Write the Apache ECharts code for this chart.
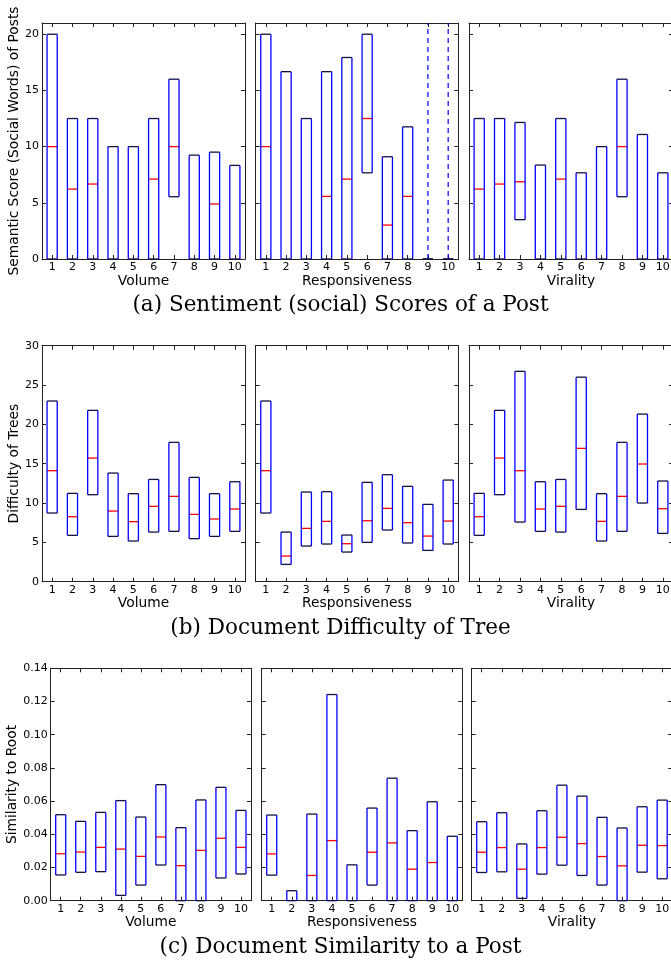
<!DOCTYPE html>
<html><head><meta charset="utf-8">
<script src="https://cdn.jsdelivr.net/npm/echarts@6/dist/echarts.min.js"></script>
<style>html,body{margin:0;padding:0;background:#fff}#c{width:671px;height:963px}</style>
</head><body><div id="c"></div>
<script>
const categories = ['1','2','3','4','5','6','7','8','9','10'];
const panelNames = ['Volume', 'Responsiveness', 'Virality'];
const rowYNames = ['Semantic Score (Social Words) of Posts', 'Difficulty of Trees', 'Similarity to Root'];
const rowCaptions = ['(a) Sentiment (social) Scores of a Post', '(b) Document Difficulty of Tree', '(c) Document Similarity to a Post'];
const rowYMax = [21, 30, 0.14];
const rowYInterval = [5, 5, 0.02];
const rowYDecimals = [0, 0, 2];

// boxes: [q1, median, q3]
const sentimentVolume = [[0,10,20],[0,6.22,12.5],[0,6.67,12.5],[0,0,10],[0,0,10],[0,7.11,12.5],[5.54,10,16],[0,0,9.24],[0,4.89,9.51],[0,0,8.33]];
const sentimentResponsiveness = [[0,10,20],[0,0,16.67],[0,0,12.5],[0,5.57,16.67],[0,7.11,17.93],[7.67,12.5,20],[0,3.02,9.1],[0,5.57,11.76],[0,0,0],[0,0,0]];
const sentimentResponsivenessUpperWhisker = [null,null,null,null,null,null,null,null,23,23];
const sentimentVirality = [[0,6.22,12.5],[0,6.67,12.5],[3.5,6.87,12.15],[0,0,8.36],[0,7.11,12.5],[0,0,7.67],[0,0,10],[5.54,10,16],[0,0,11.08],[0,0,7.67]];

const difficultyVolume = [[8.73,14.11,22.97],[5.89,8.26,11.23],[11.06,15.72,21.78],[5.76,8.98,13.81],[5.17,7.63,11.19],[6.31,9.58,13.0],[6.4,10.85,17.71],[5.47,8.56,13.26],[5.76,7.97,11.19],[6.4,9.24,12.71]];
const difficultyResponsiveness = [[8.73,14.11,22.97],[2.2,3.26,6.31],[4.53,6.78,11.4],[4.79,7.67,11.44],[3.77,4.83,5.93],[5.0,7.75,12.63],[6.57,9.32,13.6],[4.92,7.5,12.12],[3.98,5.8,9.83],[4.79,7.71,12.92]];
const difficultyVirality = [[5.89,8.26,11.23],[11.06,15.72,21.78],[7.58,14.11,26.74],[6.4,9.24,12.71],[6.31,9.58,13.0],[9.19,16.95,26.0],[5.17,7.67,11.19],[6.4,10.85,17.71],[10.0,14.96,21.31],[6.14,9.28,12.8]];

const similarityVolume = [[0.0155,0.0283,0.0518],[0.0171,0.0293,0.0478],[0.0175,0.0321,0.0532],[0.0032,0.0311,0.0603],[0.0094,0.0267,0.0504],[0.0215,0.0384,0.0699],[0,0.0211,0.044],[0,0.0303,0.0607],[0.0137,0.0376,0.0683],[0.0161,0.0321,0.0544]];
const similarityResponsiveness = [[0.0154,0.0282,0.0516],[0,0,0.006],[0,0.0152,0.0522],[0,0.0362,0.1242],[0,0,0.0216],[0.0094,0.0292,0.0558],[0,0.0348,0.0738],[0,0.019,0.0422],[0,0.023,0.0596],[0,0,0.0388]];
const similarityVirality = [[0.017,0.0292,0.0476],[0.0174,0.032,0.053],[0.0014,0.019,0.0342],[0.016,0.032,0.0542],[0.0214,0.0382,0.0696],[0.0152,0.0344,0.063],[0.0094,0.0266,0.0502],[0,0.021,0.0438],[0.0172,0.0334,0.0566],[0.0132,0.0332,0.0606]];

const panels = [
  [sentimentVolume, null], [sentimentResponsiveness, sentimentResponsivenessUpperWhisker], [sentimentVirality, null],
  [difficultyVolume, null], [difficultyResponsiveness, null], [difficultyVirality, null],
  [similarityVolume, null], [similarityResponsiveness, null], [similarityVirality, null]
];

// layout (pixels)
const rowTop = [23, 345.7, 668.3];
const rowHeight = [236, 236, 232.4];
const colLeft = [[42, 255.7, 469], [42, 255.7, 469], [50.7, 261.7, 471.7]];
const colWidth = [[203, 202.6, 204], [203, 202.6, 204], [200.3, 200.6, 200.5]];
const yNameGap = [19, 19, 29];
const captionY = [305.5, 628, 947];

const SANS = 'DejaVu Sans';
const FRAME = '#222';

const grids = [], xAxes = [], yAxes = [], series = [];
for (let i = 0; i < 9; i++) {
  const r = Math.floor(i / 3), c = i % 3;
  grids.push({left: colLeft[r][c], top: rowTop[r], width: colWidth[r][c], height: rowHeight[r], containLabel: false, outerBoundsMode: 'none'});
  const tickStyle = {show: true, inside: true, length: 4, lineStyle: {color: FRAME, width: 1}};
  const lineStyle = {show: true, onZero: false, lineStyle: {color: FRAME, width: 1}};
  xAxes.push({gridIndex: i, type: 'category', data: categories, position: 'bottom', boundaryGap: true,
    axisLine: lineStyle, axisTick: Object.assign({alignWithLabel: true, interval: 0}, tickStyle),
    axisLabel: {show: true, interval: 0, margin: 3, fontSize: 11, fontFamily: SANS, color: '#000'},
    splitLine: {show: false},
    name: panelNames[c], nameLocation: 'middle', nameGap: 15,
    nameTextStyle: {fontSize: 13.8, fontFamily: SANS, color: '#000'}});
  xAxes.push({gridIndex: i, type: 'category', data: categories, position: 'top', boundaryGap: true,
    axisLine: lineStyle, axisTick: Object.assign({alignWithLabel: true, interval: 0}, tickStyle),
    axisLabel: {show: false}, splitLine: {show: false}});
  const dec = rowYDecimals[r], step = rowYInterval[r];
  yAxes.push({gridIndex: i, type: 'value', position: 'left', min: 0, max: rowYMax[r], interval: step,
    axisLine: lineStyle, axisTick: tickStyle, splitLine: {show: false},
    axisLabel: {show: c === 0, margin: 3, fontSize: 11, fontFamily: SANS, color: '#000',
      formatter: function (v) { const k = v / step; return Math.abs(k - Math.round(k)) < 1e-6 ? v.toFixed(dec) : ''; }},
    name: c === 0 ? rowYNames[r] : '', nameLocation: 'middle', nameRotate: 90, nameGap: yNameGap[r],
    nameTextStyle: {fontSize: 13.8, fontFamily: SANS, color: '#000'}});
  yAxes.push({gridIndex: i, type: 'value', position: 'right', min: 0, max: rowYMax[r], interval: step,
    axisLine: lineStyle, axisTick: tickStyle, splitLine: {show: false}, axisLabel: {show: false}});

  const boxes = panels[i][0], upper = panels[i][1];
  const data = boxes.map((b, k) => [k, b[0], b[0], b[1], b[2], (upper && upper[k] != null) ? upper[k] : b[2]]);
  series.push({
    type: 'custom', xAxisIndex: 2 * i, yAxisIndex: 2 * i, data: data,
    encode: {x: 0, y: [1, 2, 3, 4, 5]}, silent: true, animation: false,
    renderItem: function (params, api) {
      const cs = params.coordSys;
      const clampY = y => Math.max(cs.y, Math.min(cs.y + cs.height, y));
      const idx = api.value(0);
      const lo = api.value(1), q1 = api.value(2), med = api.value(3), q3 = api.value(4), hi = api.value(5);
      const band = api.size([1, 0])[0];
      const hw = band * 0.25;
      const cx = api.coord([idx, q1])[0];
      const yQ1 = clampY(api.coord([idx, q1])[1]);
      const yQ3 = clampY(api.coord([idx, q3])[1]);
      const yMed = clampY(api.coord([idx, med])[1]);
      const yHi = clampY(api.coord([idx, hi])[1]);
      const yLo = clampY(api.coord([idx, lo])[1]);
      const children = [];
      if (hi > q3) {
        children.push({type: 'line', shape: {x1: cx, y1: yQ3, x2: cx, y2: yHi},
          style: {stroke: '#0000ff', lineWidth: 1.2, lineDash: [5, 4]}});
      }
      if (lo < q1) {
        children.push({type: 'line', shape: {x1: cx, y1: yQ1, x2: cx, y2: yLo},
          style: {stroke: '#0000ff', lineWidth: 1.2, lineDash: [5, 4]}});
      }
      // a median lying on a box edge is covered by that edge's cap
      if (med > q1 && med < q3) {
        children.push({type: 'line', shape: {x1: cx - hw, y1: yMed, x2: cx + hw, y2: yMed},
          style: {stroke: '#ff0000', lineWidth: 1.3}});
      }
      children.push({type: 'line', shape: {x1: cx - hw, y1: yQ3, x2: cx - hw, y2: yQ1}, style: {stroke: '#0000ff', lineWidth: 1.3}});
      children.push({type: 'line', shape: {x1: cx + hw, y1: yQ3, x2: cx + hw, y2: yQ1}, style: {stroke: '#0000ff', lineWidth: 1.3}});
      children.push({type: 'line', shape: {x1: cx - hw, y1: yQ3, x2: cx + hw, y2: yQ3}, style: {stroke: '#111144', lineWidth: 1.3}});
      children.push({type: 'line', shape: {x1: cx - hw, y1: yQ1, x2: cx + hw, y2: yQ1}, style: {stroke: '#111144', lineWidth: 1.3}});
      return {type: 'group', children: children};
    }
  });
}

const graphics = rowCaptions.map((t, r) => ({
  type: 'text', x: 340.5, y: captionY[r],
  style: {text: t, fontSize: 21.5, fontFamily: 'DejaVu Serif', fill: '#000', align: 'center', verticalAlign: 'middle'}
}));

const chart = echarts.init(document.getElementById('c'), null, {renderer: 'canvas'});
chart.setOption({
  animation: false,
  backgroundColor: '#fff',
  grid: grids, xAxis: xAxes, yAxis: yAxes, series: series, graphic: graphics
});
</script></body></html>
